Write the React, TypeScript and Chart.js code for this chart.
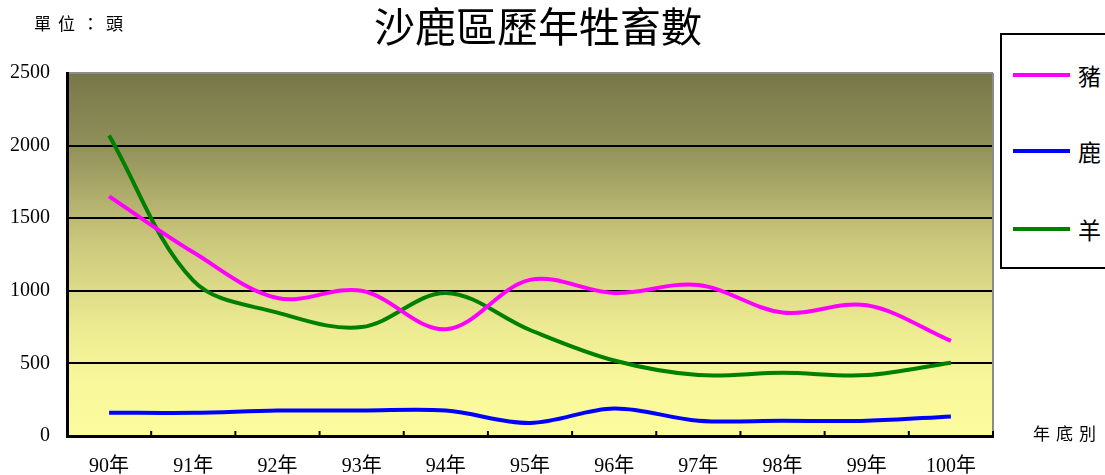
import React, { useEffect, useRef } from 'react';
import { Chart, registerables } from 'chart.js';

Chart.register(...registerables);

const years = ['90年', '91年', '92年', '93年', '94年', '95年', '96年', '97年', '98年', '99年', '100年'];
const seriesNames = ['豬', '鹿', '羊'];
const pigs = [1650, 1265, 950, 1000, 735, 1075, 985, 1040, 850, 900, 655];
const deer = [160, 160, 175, 175, 175, 90, 190, 105, 105, 105, 135];
const sheep = [2070, 1070, 850, 750, 985, 730, 520, 420, 435, 420, 505];
const seriesColors = ['#FF00FF', '#0000FF', '#008000'];
const yMax = 2500;
const yStep = 500;

const CJK = '"Noto Sans CJK TC", "Noto Sans CJK SC", sans-serif';
const SERIF = '"Liberation Serif", "Noto Sans CJK TC", serif';

const framePlugin = {
  id: 'frame',
  beforeDraw(chart: any) {
    const { ctx, chartArea: a } = chart;
    const g = ctx.createLinearGradient(0, a.top, 0, a.bottom);
    g.addColorStop(0, '#77774a');
    g.addColorStop(0.2, '#90905a');
    g.addColorStop(0.45, '#c8c57a');
    g.addColorStop(0.7, '#eceb92');
    g.addColorStop(0.85, '#f8f79a');
    g.addColorStop(1, '#fcfc9e');
    ctx.save();
    ctx.fillStyle = g;
    ctx.fillRect(a.left, a.top, a.right - a.left, a.bottom - a.top);
    ctx.restore();
  },
  beforeDatasetsDraw(chart: any) {
    const { ctx, chartArea: a, scales } = chart;
    const x = scales.x;
    ctx.save();
    ctx.strokeStyle = '#8c8c8c';
    ctx.lineWidth = 2;
    ctx.beginPath();
    ctx.moveTo(a.right, a.top);
    ctx.lineTo(a.right, a.bottom);
    ctx.stroke();
    ctx.strokeStyle = '#000';
    ctx.lineWidth = 2;
    for (let i = 1; i <= years.length; i++) {
      const px = i < years.length
        ? (x.getPixelForValue(i - 1) + x.getPixelForValue(i)) / 2
        : a.right;
      ctx.beginPath();
      ctx.moveTo(px, a.bottom);
      ctx.lineTo(px, a.bottom - 5);
      ctx.stroke();
    }
    ctx.restore();
  },
};

export default function App() {
  const ref = useRef<HTMLCanvasElement | null>(null);

  useEffect(() => {
    if (!ref.current) return;
    const values = [pigs, deer, sheep];
    const chart = new Chart(ref.current, {
      type: 'line',
      data: {
        labels: years,
        datasets: seriesNames.map((name, i) => ({
          label: name,
          data: values[i],
          borderColor: seriesColors[i],
          backgroundColor: seriesColors[i],
          borderWidth: 4,
          pointRadius: 0,
          tension: 0.35,
          fill: false,
        })),
      },
      options: {
        animation: false,
        responsive: false,
        devicePixelRatio: 1,
        layout: { padding: { top: 73, right: 112, left: 0, bottom: 0 } },
        plugins: {
          legend: { display: false },
          title: { display: false },
          tooltip: { enabled: false },
        },
        scales: {
          x: {
            type: 'category',
            offset: true,
            grid: { display: false },
            border: { display: true, color: '#000', width: 3 },
            ticks: {
              color: '#000',
              font: { family: SERIF, size: 20 },
              padding: 11,
              maxRotation: 0,
              autoSkip: false,
            },
            afterFit(s: any) {
              s.height = 39;
            },
          },
          y: {
            min: 0,
            max: yMax,
            grid: {
              drawTicks: false,
              color: (c: any) => (c.tick && c.tick.value === yMax ? '#8c8c8c' : '#000'),
              lineWidth: 2,
            },
            border: { display: true, color: '#000', width: 3 },
            ticks: {
              stepSize: yStep,
              color: '#000',
              font: { family: SERIF, size: 20 },
              padding: 17,
              callback: (v: any) => String(v),
            },
            afterFit(s: any) {
              s.width = 67;
            },
          },
        },
      },
      plugins: [framePlugin],
    });
    return () => chart.destroy();
  }, []);

  return (
    <div
      style={{
        position: 'fixed',
        left: 0,
        top: 0,
        width: 1105,
        height: 475,
        overflow: 'hidden',
        background: '#fff',
      }}
    >
      <canvas ref={ref} width={1105} height={475} style={{ position: 'absolute', left: 0, top: 0 }} />
      <div
        style={{
          position: 'absolute',
          left: 0,
          width: 1076,
          top: 2,
          textAlign: 'center',
          fontFamily: CJK,
          fontSize: 41,
          lineHeight: '44px',
          color: '#000',
        }}
      >
        沙鹿區歷年牲畜數
      </div>
      <div
        style={{
          position: 'absolute',
          left: 34,
          top: 12,
          fontFamily: CJK,
          fontSize: 17,
          lineHeight: '22px',
          letterSpacing: 7,
          color: '#000',
        }}
      >
        單位：頭
      </div>
      <div
        style={{
          position: 'absolute',
          left: 1033,
          top: 422,
          fontFamily: CJK,
          fontSize: 17,
          lineHeight: '22px',
          letterSpacing: 6,
          color: '#000',
          whiteSpace: 'nowrap',
        }}
      >
        年底別
      </div>
      <div
        style={{
          position: 'absolute',
          left: 1000,
          top: 33,
          width: 140,
          height: 232,
          border: '2px solid #000',
          background: '#fff',
        }}
      >
        {seriesNames.map((name, i) => (
          <div
            key={name}
            style={{
              position: 'absolute',
              left: 0,
              top: [40, 116, 194][i] - 16,
              height: 32,
              display: 'flex',
              alignItems: 'center',
              whiteSpace: 'nowrap',
            }}
          >
            <span
              style={{
                display: 'inline-block',
                marginLeft: 11,
                width: 57,
                height: 4,
                background: seriesColors[i],
              }}
            />
            <span
              style={{
                marginLeft: 8,
                fontFamily: CJK,
                fontSize: 23,
                lineHeight: '32px',
                color: '#000',
              }}
            >
              {name}
            </span>
          </div>
        ))}
      </div>
    </div>
  );
}
